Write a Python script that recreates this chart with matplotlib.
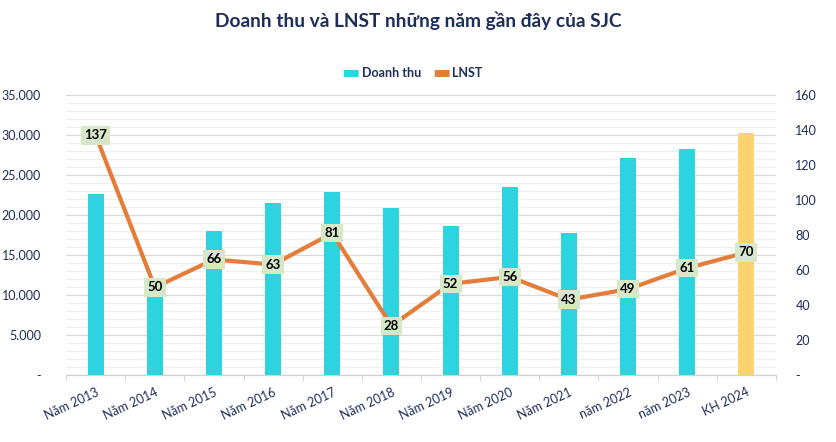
import numpy as np
import matplotlib
matplotlib.use("Agg")
from matplotlib import pyplot as plt
from matplotlib.ticker import FuncFormatter, MultipleLocator

plt.rcParams['font.family'] = ['Lato', 'DejaVu Sans']

# data
years = ['Năm 2013', 'Năm 2014', 'Năm 2015', 'Năm 2016', 'Năm 2017', 'Năm 2018',
         'Năm 2019', 'Năm 2020', 'Năm 2021', 'năm 2022', 'năm 2023', 'KH 2024']
doanh_thu = [22600, 10600, 18000, 21500, 22900, 20900,
             18600, 23500, 17700, 27100, 28300, 30200]
lnst = [137, 50, 66, 63, 81, 28, 52, 56, 43, 49, 61, 70]

navy = '#1f2d5a'
cyan = '#2dd3df'
gold = '#fdd36f'
orange = '#e47c3a'

fig = plt.figure(figsize=(8.37, 4.42), dpi=100)
ax = fig.add_axes([0.079, 0.152, 0.848, 0.633])
ax2 = ax.twinx()

x = np.arange(len(years))
colors = [cyan] * (len(years) - 1) + [gold]
ax.bar(x, doanh_thu, width=0.27, color=colors, zorder=2)

ax2.plot(x, lnst, color=orange, lw=3, zorder=3, solid_capstyle='round')
for xi, v in zip(x, lnst):
    ax2.text(xi, v, str(v), ha='center', va='center', fontsize=9.5,
             fontweight='bold', color='black', zorder=5,
             bbox=dict(boxstyle='square,pad=0.25', fc='#d6e8c8', ec='none'))

# left axis
ax.set_xlim(-0.5, len(years) - 0.5)
ax.set_ylim(0, 35000)
ax.yaxis.set_major_locator(MultipleLocator(5000))
ax.yaxis.set_minor_locator(MultipleLocator(1000))
ax.yaxis.set_major_formatter(FuncFormatter(
    lambda v, p: '-' if v == 0 else f'{int(v):,}'.replace(',', '.')))
ax.grid(axis='y', which='major', color='#d9d9d9', lw=0.9, zorder=0)
ax.grid(axis='y', which='minor', color='#eeeeee', lw=0.7, zorder=0)
ax.set_axisbelow(True)

ax2.set_ylim(0, 160)
ax2.yaxis.set_major_locator(MultipleLocator(20))
ax2.yaxis.set_major_formatter(FuncFormatter(
    lambda v, p: '-' if v == 0 else f'{int(v)}'))

for a in (ax, ax2):
    for s in ['top', 'right', 'left']:
        a.spines[s].set_visible(False)
    a.spines['bottom'].set_color('#d0d0d0')
    a.tick_params(axis='y', which='both', length=0, labelsize=9,
                  labelcolor=navy, pad=18)

ax.set_xticks(x)
ax.set_xticklabels(years, rotation=25, ha='right', rotation_mode='anchor',
                   fontsize=9, color=navy)
ax.set_xticks(np.arange(-0.5, len(years), 1), minor=True)
ax.tick_params(axis='x', which='major', length=0, pad=8)
ax.tick_params(axis='x', which='minor', length=4, color='#d0d0d0')
ax2.tick_params(axis='y', pad=14)

# legend
fig.text(0.43, 0.835, '\u25ac', color=cyan, fontsize=14, ha='right', va='center')
fig.text(0.432, 0.835, 'Doanh thu', color=navy, fontsize=9, fontweight='bold',
         ha='left', va='center')
fig.text(0.538, 0.835, '\u25ac', color=orange, fontsize=14, ha='right', va='center')
fig.text(0.540, 0.835, 'LNST', color=navy, fontsize=9, fontweight='bold',
         ha='left', va='center')

fig.suptitle('Doanh thu và LNST những năm gần đây của SJC', y=0.975,
             fontsize=13.8, fontweight='bold', color=navy, x=0.5)

plt.savefig('out.png', dpi=100)
